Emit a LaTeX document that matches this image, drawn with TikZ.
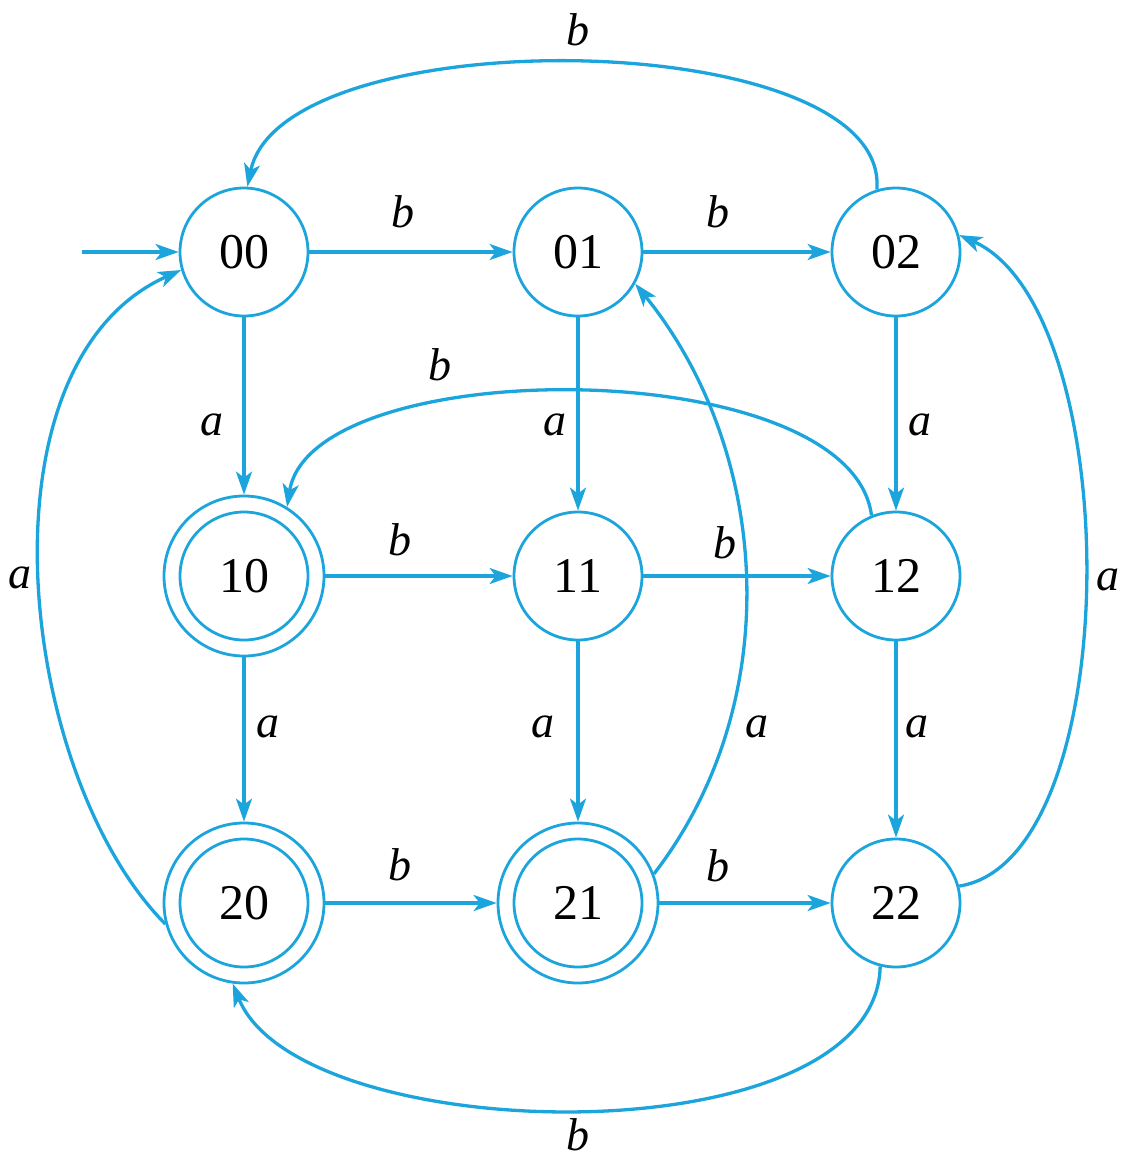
\documentclass[tikz,border=0pt]{standalone}
\usepackage{fontspec}
\setmainfont{Liberation Serif}
\usetikzlibrary{arrows.meta}
\definecolor{edgeblue}{RGB}{28,165,220}
\begin{document}
\begin{tikzpicture}[x=1pt,y=-1pt,
  stnode/.style={circle,draw=edgeblue,line width=2.8pt,minimum size=128pt,inner sep=0pt,
    font=\fontsize{50}{60}\selectfont},
  accept/.style={stnode,minimum size=160pt,
    path picture={\draw[edgeblue,line width=2.8pt] (path picture bounding box.center) circle[radius=64pt];}},
  lab/.style={font=\fontsize{46}{55}\selectfont\itshape,inner sep=0pt},
  trans/.style={draw=edgeblue,line width=3.3pt,-{Stealth[length=23pt,width=16pt,inset=6pt]}}]
\useasboundingbox[fill=white] (0,0) rectangle (1127,1162);

\node[stnode] (n00) at (244,252) {00};
\node[stnode] (n01) at (578,252) {01};
\node[stnode] (n02) at (896,252) {02};
\node[accept] (n10) at (244,576) {10};
\node[stnode] (n11) at (578,576) {11};
\node[stnode] (n12) at (896,576) {12};
\node[accept] (n20) at (244,903) {20};
\node[accept] (n21) at (578,903) {21};
\node[stnode] (n22) at (896,903) {22};

\coordinate (start) at (82,252);
\draw[trans] (start) -- (n00);

% straight transitions
\draw[trans] (n00) -- (n01);
\draw[trans] (n01) -- (n02);
\draw[trans] (n10) -- (n11);
\draw[trans] (n11) -- (n12);
\draw[trans] (n20) -- (n21);
\draw[trans] (n21) -- (n22);
\draw[trans] (n00) -- (n10);
\draw[trans] (n10) -- (n20);
\draw[trans] (n01) -- (n11);
\draw[trans] (n11) -- (n21);
\draw[trans] (n02) -- (n12);
\draw[trans] (n12) -- (n22);

% curved transitions
\draw[trans] (n02.107) .. controls (890,25) and (282,17) .. (n00.87);
\draw[trans] (n22.-104) .. controls (876,1160) and (300,1150) .. (n20.-98);
\draw[trans] (n20.195) .. controls (17,774) and (-27,363) .. (n00.196);
\draw[trans] (n22.15) .. controls (1127,860) and (1127,310) .. (n02.15);
\draw[trans] (n21.21) .. controls (788,700) and (770,450) .. (n01.-29);
\draw[trans] (n12.112) .. controls (850,352) and (311,352) .. (n10.58);

% labels
\node[lab] (l1) at (578,30) {b};
\node[lab] (l2) at (403,212) {b};
\node[lab] (l3) at (718,212) {b};
\node[lab] (l4) at (212,425) {a};
\node[lab] (l5) at (440,365) {b};
\node[lab] (l6) at (555,425) {a};
\node[lab] (l7) at (920,425) {a};
\node[lab] (l8) at (20,578) {a};
\node[lab] (l9) at (400,540) {b};
\node[lab] (l10) at (725,543) {b};
\node[lab] (l11) at (1108,580) {a};
\node[lab] (l12) at (268,727) {a};
\node[lab] (l13) at (543,727) {a};
\node[lab] (l14) at (757,727) {a};
\node[lab] (l15) at (917,727) {a};
\node[lab] (l16) at (400,865) {b};
\node[lab] (l17) at (718,866) {b};
\node[lab] (l18) at (578,1135) {b};
\end{tikzpicture}
\end{document}
